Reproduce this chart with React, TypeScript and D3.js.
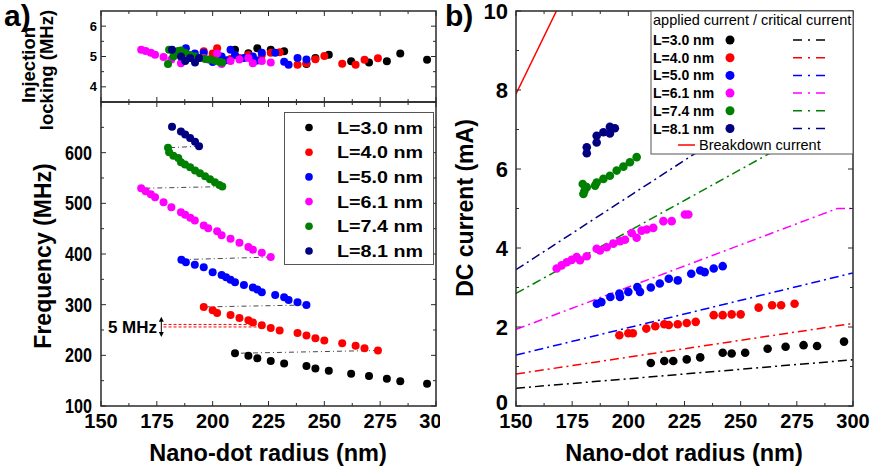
import React from 'react';
import * as d3 from 'd3';

const FONT = "'Liberation Sans', Arial, Helvetica, sans-serif";

const labels = ['L=3.0 nm', 'L=4.0 nm', 'L=5.0 nm', 'L=6.1 nm', 'L=7.4 nm', 'L=8.1 nm'];
const colors = ['#000000', '#ff0000', '#0000ff', '#ff00ff', '#008000', '#000080'];

// Panel a: radius (nm), frequency (MHz), injection locking (MHz)
const radA3 = [210, 216, 220, 226, 232, 242, 246, 252, 262, 270, 278, 284, 296];
const freq3 = [204, 199, 194, 189, 184, 179, 174, 169.5, 163.6, 159, 153.7, 149, 144];
const lock3 = [5.22, 5.11, 5.27, 5.22, 5.17, 4.75, 4.95, 5.06, 4.84, 4.8, 4.84, 5.1, 4.89];

const radA4 = [196, 200, 202, 208, 212, 216, 218, 222, 226, 230, 238, 242, 246, 250, 258, 264, 268, 274];
const freq4 = [295.5, 289, 283.7, 279.7, 273.8, 269.3, 264.8, 259.4, 254, 249, 244.3, 239, 233.9, 229.3, 224, 218.7, 214, 209.6];
const lock4 = [5.17, 5.1, 5.27, 4.92, 4.95, 5.05, 4.8, 5.05, 5.12, 5.14, 4.73, 4.78, 4.91, 5.02, 4.76, 4.73, 4.89, 4.94];

const radA5 = [186, 188, 192, 196, 200, 204, 206, 208, 210, 214, 218, 220, 222, 228, 232, 234, 238, 242];
const freq5 = [388.8, 383.5, 379, 374, 363.8, 358.5, 354, 349, 344, 338.8, 334, 329.7, 324.4, 319, 314.6, 309, 304.7, 299.4];
const lock5 = [5.0, 5.27, 5.1, 5.12, 4.82, 5.0, 4.88, 5.22, 5.05, 4.95, 5.0, 4.87, 5.12, 5.12, 4.83, 4.73, 4.95, 4.9];

const radA6 = [168, 170, 172.3, 174.2, 178, 181.5, 185.8, 187.7, 190, 192, 196, 198, 202, 204, 208, 212, 216, 218, 222, 226];
const freq6 = [529.7, 523.8, 517.9, 512, 502, 492.3, 482.5, 477.4, 471.5, 466, 456.3, 451, 445, 437.2, 430, 422.3, 413.6, 408.5, 402.6, 394];
const lock6 = [5.22, 5.18, 5.12, 5.06, 4.98, 4.9, 4.78, 4.95, 4.95, 4.92, 4.95, 4.9, 5.1, 4.75, 4.85, 4.9, 4.95, 4.78, 4.85, 4.8];

const radA7 = [180, 180.5, 182.4, 184.6, 185.8, 187.6, 189.9, 192.1, 194.3, 196.6, 198.8, 201, 203, 204.3];
const freq7 = [609.8, 600.6, 594, 589.6, 580.9, 576.4, 571, 564.6, 559.3, 553.3, 547.4, 541.5, 536.4, 533];
const lock7 = [4.75, 5.22, 5.0, 5.18, 5.2, 5.12, 5.05, 5.0, 4.95, 4.92, 4.9, 4.86, 4.83, 4.8];

const radA8 = [181.8, 185.8, 187.7, 189.9, 192.1, 193.9];
const freq8 = [651.2, 642, 636, 629, 621.7, 612.6];
const lock8 = [5.22, 5.0, 4.85, 4.95, 4.8, 4.95];

// Panel b: radius (nm), DC current (mA)
const radB3 = [210, 216, 220, 226, 232, 242, 246, 252, 262, 270, 278, 284, 296];
const cur3 = [1.09, 1.14, 1.14, 1.18, 1.23, 1.35, 1.33, 1.35, 1.45, 1.5, 1.54, 1.52, 1.63];
const radB4 = [196, 200, 202, 208, 212, 216, 218, 222, 226, 230, 238, 242, 246, 250, 258, 264, 268, 274];
const cur4 = [1.79, 1.84, 1.84, 1.96, 2.02, 2.07, 2.05, 2.07, 2.1, 2.13, 2.3, 2.3, 2.32, 2.32, 2.49, 2.55, 2.55, 2.59];
const radB5 = [186, 188, 192, 196, 196.3, 200, 204, 205.2, 210, 214, 218, 222, 228, 232, 234, 238, 242];
const cur5 = [2.59, 2.63, 2.76, 2.85, 2.76, 2.89, 3.01, 2.89, 3.0, 3.1, 3.22, 3.18, 3.35, 3.43, 3.39, 3.48, 3.54];
const radB6 = [168.1, 170.3, 172.6, 174.8, 177, 178.5, 181.5, 185.9, 187.4, 190.4, 193.3, 196.3, 198.5, 201.5, 203.7, 205.9, 208.2, 211.1, 215.6, 219.3, 225.2, 226.7];
const cur6 = [3.48, 3.56, 3.64, 3.7, 3.77, 3.69, 3.79, 3.98, 3.94, 4.02, 4.11, 4.17, 4.21, 4.38, 4.26, 4.44, 4.47, 4.51, 4.68, 4.68, 4.85, 4.85];
const radB7 = [180, 179.7, 180.5, 181.5, 185.2, 185.9, 188.9, 191.8, 194.8, 197.8, 200.7, 203.7];
const cur7 = [5.37, 5.62, 5.45, 5.54, 5.58, 5.66, 5.75, 5.83, 5.96, 6.06, 6.17, 6.3];
const radB8 = [181.5, 181.5, 185.9, 185.9, 188.9, 191.8, 191.8, 194];
const cur8 = [6.55, 6.4, 6.84, 6.67, 6.93, 7.07, 6.9, 7.03];

// Critical current lines (radius, mA)
const critRad = [[150, 300], [150, 300], [150, 300], [150, 293, 300], [150, 300], [150, 300]];
const critCur = [[0.45, 1.17], [0.81, 2.09], [1.29, 3.37], [1.94, 5.0, 5.0], [2.85, 7.56], [3.45, 8.99]];
const breakRad = [150, 168];
const breakCur = [7.9, 10.0];

const radA = [radA3, radA4, radA5, radA6, radA7, radA8];
const freqA = [freq3, freq4, freq5, freq6, freq7, freq8];
const lockA = [lock3, lock4, lock5, lock6, lock7, lock8];
const radB = [radB3, radB4, radB5, radB6, radB7, radB8];
const curB = [cur3, cur4, cur5, cur6, cur7, cur8];

const xTicks = [150, 175, 200, 225, 250, 275, 300];
const xMinor = [162.5, 187.5, 212.5, 237.5, 262.5, 287.5];
const lockTicks = [4, 5, 6];
const lockMinor = [4.5, 5.5];
const freqTicks = [100, 200, 300, 400, 500, 600];
const freqMinor = [150, 250, 350, 450, 550, 650, 700];
const curTicks = [0, 2, 4, 6, 8, 10];
const curMinor = [1, 3, 5, 7, 9];

const mhzLevels = [256, 261];

const DASHDOT = '9,4,2,4';
const FRAME = '#2a2a2a';

function frameTicks(key: string, xs: any, ys: any, xt: number[], xm: number[], yt: number[], ym: number[]) {
  const [x0, x1] = xs.range();
  const [y0, y1] = ys.range();
  const els: any[] = [];
  const add = (v: number, len: number, i: string) => {
    const x = xs(v);
    els.push(<line key={`${key}xb${i}${v}`} x1={x} x2={x} y1={y0} y2={y0 - len} stroke={FRAME} strokeWidth={1} />);
    els.push(<line key={`${key}xt${i}${v}`} x1={x} x2={x} y1={y1} y2={y1 + len} stroke={FRAME} strokeWidth={1} />);
  };
  const addY = (v: number, len: number, i: string) => {
    const y = ys(v);
    els.push(<line key={`${key}yl${i}${v}`} x1={x0} x2={x0 + len} y1={y} y2={y} stroke={FRAME} strokeWidth={1} />);
    els.push(<line key={`${key}yr${i}${v}`} x1={x1} x2={x1 - len} y1={y} y2={y} stroke={FRAME} strokeWidth={1} />);
  };
  xt.forEach((v) => add(v, 5, 'M'));
  xm.forEach((v) => add(v, 3, 'm'));
  yt.forEach((v) => addY(v, 5, 'M'));
  ym.forEach((v) => addY(v, 3, 'm'));
  return els;
}

export default function App() {
  const xA = d3.scaleLinear().domain([150, 300]).range([101, 436]);
  const yTop = d3.scaleLinear().domain([3.5, 6.5]).range([102, 11]);
  const yBot = d3.scaleLinear().domain([100, 700]).range([406, 102]);
  const xB = d3.scaleLinear().domain([150, 300]).range([516, 853]);
  const yB = d3.scaleLinear().domain([0, 10]).range([406, 11]);

  const critLine = d3.line<[number, number]>().x((d) => xB(d[0])).y((d) => yB(d[1]));

  const connectors = [5, 4, 3, 2, 1].map((s) => {
    const lowS = s - 1;
    const r1 = radA[s][radA[s].length - 1];
    const f1 = freqA[s][freqA[s].length - 1];
    const r0 = radA[lowS][0];
    const f0 = freqA[lowS][0];
    return { r1, f1, r0, f0, s };
  });

  const arrowX = xA(177);
  const arrowTop = yBot(276);
  const arrowBot = yBot(236);

  return (
    <svg width={871} height={474} style={{ position: 'absolute', left: 0, top: 0, background: '#fff' }} fontFamily={FONT}>
      <defs>
        <clipPath id="clipLeft"><rect x={0} y={0} width={440} height={474} /></clipPath>
        <clipPath id="clipTop"><rect x={101} y={11} width={335} height={91} /></clipPath>
        <clipPath id="clipBot"><rect x={101} y={102} width={335} height={304} /></clipPath>
        <clipPath id="clipB"><rect x={516} y={11} width={337} height={395} /></clipPath>
      </defs>
      <rect x={0} y={0} width={871} height={474} fill="#fff" />

      {/* ===== Panel a ===== */}
      <g clipPath="url(#clipLeft)">
        <text x={4} y={26} fontSize={30} fontWeight="bold">a)</text>
        <g clipPath="url(#clipTop)">
          {radA.map((rs, s) => rs.map((r, i) => (
            <circle key={`lk${s}-${i}`} cx={xA(r)} cy={yTop(lockA[s][i])} r={4} fill={colors[s]} />
          )))}
        </g>
        <g clipPath="url(#clipBot)">
          {connectors.map((c) => (
            <line key={`cn${c.s}`} x1={xA(c.r1)} y1={yBot(c.f1)} x2={xA(c.r0)} y2={yBot(c.f0)}
              stroke="#333" strokeWidth={0.9} strokeDasharray="5,3,1,3" />
          ))}
          {mhzLevels.map((m) => (
            <line key={`mhz${m}`} x1={xA(178)} x2={xA(220)} y1={yBot(m)} y2={yBot(m)}
              stroke="#ff0000" strokeWidth={1} strokeDasharray="3,2" />
          ))}
          {radA.map((rs, s) => rs.map((r, i) => (
            <circle key={`fq${s}-${i}`} cx={xA(r)} cy={yBot(freqA[s][i])} r={4} fill={colors[s]} />
          )))}
        </g>
        <line x1={arrowX} x2={arrowX} y1={arrowTop + 4} y2={arrowBot - 4} stroke="#000" strokeWidth={1} />
        <path d={`M${arrowX - 2.5},${arrowTop + 5} L${arrowX},${arrowTop} L${arrowX + 2.5},${arrowTop + 5} Z`} fill="#000" />
        <path d={`M${arrowX - 2.5},${arrowBot - 5} L${arrowX},${arrowBot} L${arrowX + 2.5},${arrowBot - 5} Z`} fill="#000" />
        <text x={157} y={333} fontSize={17} fontWeight="bold" textAnchor="end">5 MHz</text>

        <rect x={101} y={11} width={335} height={91} fill="none" stroke={FRAME} strokeWidth={1.5} />
        <rect x={101} y={102} width={335} height={304} fill="none" stroke={FRAME} strokeWidth={1.5} />
        {frameTicks('top', xA, yTop, xTicks, xMinor, lockTicks, lockMinor)}
        {frameTicks('bot', xA, yBot, xTicks, xMinor, freqTicks, freqMinor)}

        {lockTicks.map((t) => (
          <text key={`lt${t}`} x={97} y={yTop(t) + 4.5} fontSize={13} fontWeight="bold" textAnchor="end">{t}</text>
        ))}
        {freqTicks.map((t) => (
          <text key={`ft${t}`} x={92} y={yBot(t) + 7} fontSize={20} fontWeight="bold" textAnchor="end"
            textLength={27} lengthAdjust="spacingAndGlyphs">{t}</text>
        ))}
        {xTicks.map((t) => (
          <text key={`xa${t}`} x={xA(t)} y={428} fontSize={20} fontWeight="bold" textAnchor="middle">{t}</text>
        ))}
        <text x={268} y={461} fontSize={23.5} fontWeight="bold" textAnchor="middle">Nano-dot radius (nm)</text>
        <text transform="translate(51,256) rotate(-90)" fontSize={23} fontWeight="bold" textAnchor="middle">Frequency (MHz)</text>
        <text transform="translate(35,65) rotate(-90)" fontSize={18.5} fontWeight="bold" textAnchor="middle">Injection</text>
        <text transform="translate(53,70) rotate(-90)" fontSize={18.5} fontWeight="bold" textAnchor="middle">locking (MHz)</text>

        <rect x={284.5} y={112.5} width={149} height={152} fill="#fff" stroke="#555" strokeWidth={1} />
        {labels.map((l, i) => (
          <g key={`lga${i}`}>
            <circle cx={309} cy={127.5 + i * 24.7} r={3.8} fill={colors[i]} />
            <text x={337} y={127.5 + i * 24.7 + 6} fontSize={17} fontWeight="bold" textLength={86} lengthAdjust="spacingAndGlyphs">{l}</text>
          </g>
        ))}
      </g>

      {/* ===== Panel b ===== */}
      <text x={445} y={26} fontSize={30} fontWeight="bold">b)</text>
      <g clipPath="url(#clipB)">
        {critRad.map((rs, s) => (
          <path key={`cl${s}`} d={critLine(rs.map((r, i) => [r, critCur[s][i]]) as [number, number][]) || ''}
            fill="none" stroke={colors[s]} strokeWidth={1.5} strokeDasharray={DASHDOT} />
        ))}
        <path d={critLine(breakRad.map((r, i) => [r, breakCur[i]]) as [number, number][]) || ''}
          fill="none" stroke="#ff0000" strokeWidth={1.5} />
        {radB.map((rs, s) => rs.map((r, i) => (
          <circle key={`dc${s}-${i}`} cx={xB(r)} cy={yB(curB[s][i])} r={4.3} fill={colors[s]} />
        )))}
      </g>
      <rect x={516} y={11} width={337} height={395} fill="none" stroke={FRAME} strokeWidth={1.5} />
      {frameTicks('b', xB, yB, xTicks, xMinor, curTicks, curMinor)}
      {curTicks.map((t) => (
        <text key={`ct${t}`} x={508} y={yB(t) + (t === 0 ? 4 : 8)} fontSize={22} fontWeight="bold" textAnchor="end">{t}</text>
      ))}
      {xTicks.map((t) => (
        <text key={`xb${t}`} x={xB(t)} y={428} fontSize={20} fontWeight="bold" textAnchor="middle">{t}</text>
      ))}
      <text x={684} y={461} fontSize={23.5} fontWeight="bold" textAnchor="middle">Nano-dot radius (nm)</text>
      <text transform="translate(473,208) rotate(-90)" fontSize={23} fontWeight="bold" textAnchor="middle">DC current (mA)</text>

      <rect x={651} y={11} width={202} height={143} fill="#fff" stroke="#555" strokeWidth={1} />
      <text x={653} y={25} fontSize={14.5}>applied current / critical current</text>
      {labels.map((l, i) => {
        const cy = 40 + i * 17.7;
        return (
          <g key={`lgb${i}`}>
            <text x={653} y={cy + 5} fontSize={14} fontWeight="bold">{l}</text>
            <circle cx={730} cy={cy} r={4.5} fill={colors[i]} />
            <line x1={793} x2={827} y1={cy} y2={cy} stroke={colors[i]} strokeWidth={1.5} strokeDasharray="9,6,2,6" />
          </g>
        );
      })}
      <line x1={678} x2={695} y1={145} y2={145} stroke="#ff0000" strokeWidth={1.5} />
      <text x={699} y={150} fontSize={14.5}>Breakdown current</text>
    </svg>
  );
}
